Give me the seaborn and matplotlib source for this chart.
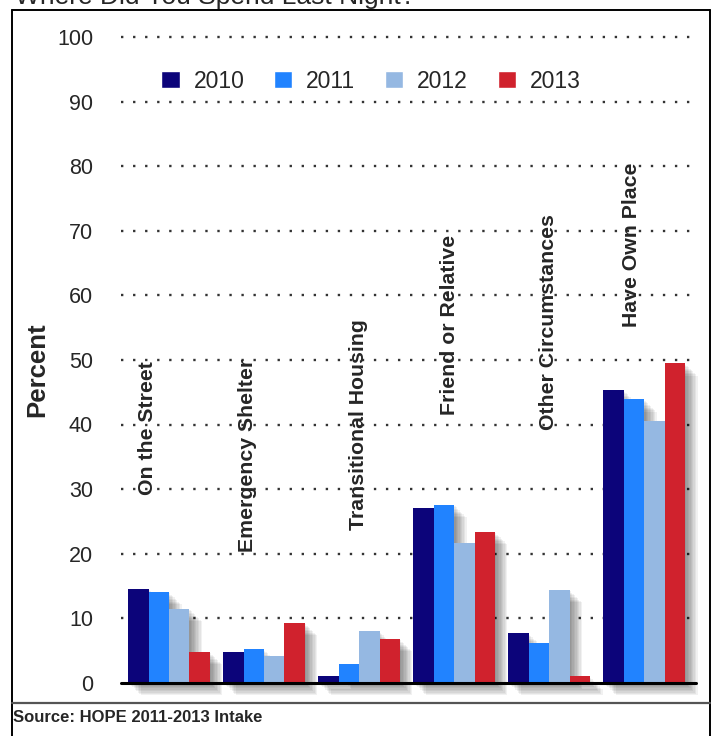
import numpy as np
import pandas as pd
import matplotlib
matplotlib.use("Agg")
import matplotlib.pyplot as plt
import matplotlib.patheffects as pe
from matplotlib.lines import Line2D
import seaborn as sns

# chart data (percent of intake respondents)
categories = ["On the Street", "Emergency Shelter", "Transitional Housing",
              "Friend or Relative", "Other Circumstances", "Have Own Place"]
years = ["2010", "2011", "2012", "2013"]
pct_2010 = [14.6, 4.8, 1.0, 27.0, 7.7, 45.3]
pct_2011 = [14.1, 5.2, 3.0, 27.6, 6.2, 43.9]
pct_2012 = [11.5, 4.1, 8.0, 21.7, 14.4, 40.6]
pct_2013 = [4.8, 9.3, 6.8, 23.4, 1.0, 49.5]
y_ticks = [0, 10, 20, 30, 40, 50, 60, 70, 80, 90, 100]

colors = ["#0c047a", "#2183ff", "#95b8e2", "#d0222d"]

df = pd.DataFrame({
    "category": categories * 4,
    "year": np.repeat(years, len(categories)),
    "pct": pct_2010 + pct_2011 + pct_2012 + pct_2013,
})

sns.set_style("white")
plt.rcParams["font.family"] = ["Liberation Sans", "DejaVu Sans"]

fig = plt.figure(figsize=(7.12, 7.36), dpi=100)
ax = fig.add_axes([121.5 / 712, 1 - 682.9 / 736, 574 / 712, 646 / 736])

sns.barplot(data=df, x="category", y="pct", hue="year", hue_order=years,
            palette=colors, width=0.86, saturation=1, ax=ax, zorder=3)

ax.set_ylim(0, 100)
ax.set_xlim(-0.5, 5.54)
ax.set_yticks(y_ticks)
ax.set_yticklabels([str(t) for t in y_ticks], fontsize=15.5)
ax.set_xticks([])
ax.set_xlabel("")
ax.set_ylabel("")
ax.tick_params(axis="y", length=0, pad=20.5)
for s in ax.spines.values():
    s.set_visible(False)

for t in y_ticks[1:]:
    ax.axhline(t, color="#333333", lw=1.7, ls=(0, (1, 4.1)),
               dash_capstyle="butt", zorder=1, clip_on=False)
ax.axhline(0, color="black", lw=2.2, zorder=6, clip_on=False)

leg = ax.legend(loc="center", bbox_to_anchor=(371 / 712, 1 - 81 / 736),
                bbox_transform=fig.transFigure, ncol=4, frameon=False,
                fontsize=16.5, handlelength=0.8, handleheight=0.8,
                handletextpad=0.6, columnspacing=1.3, borderpad=0)

# soft drop shadow on the bars (not on the legend keys)
shadow = [pe.SimplePatchShadow(offset=(d, -d), shadow_rgbFace="black", alpha=0.055)
          for d in range(1, 10)] + [pe.Normal()]
for p in ax.patches:
    p.set_linewidth(0)
    p.set_clip_on(False)
    p.set_path_effects(shadow)

# rotated category labels above the bars
label_dx = [-0.23, -0.17, -0.01, -0.05, -0.01, -0.13]
label_y = [29.1, 20.3, 23.7, 41.5, 39.2, 55.1]
for i, name in enumerate(categories):
    ax.text(i + label_dx[i], label_y[i], name, rotation=90, ha="center",
            va="bottom", fontsize=15.3, fontweight="bold", zorder=7)

fig.text(37 / 712, 1 - 370 / 736, "Percent", rotation=90, ha="center",
         va="center", fontsize=18.5, fontweight="bold")
fig.text(15 / 712, 1 - 4 / 736, "Where Did You Spend Last Night?",
         ha="left", va="baseline", fontsize=19)
fig.text(13 / 712, 1 - 718 / 736, "Source: HOPE 2011-2013 Intake",
         ha="left", va="center", fontsize=12, fontweight="bold")

# outer frame
W, H = 712, 736
def fline(x0, y0, x1, y1, c="black", lw=1.4):
    fig.add_artist(Line2D([x0 / W, x1 / W], [1 - y0 / H, 1 - y1 / H],
                          transform=fig.transFigure, color=c, lw=lw))
fline(12, 10, 710, 10)
fline(12, 10, 12, 736)
fline(710, 10, 710, 736)
fline(12, 702.7, 710, 702.7, c="#555555", lw=1.6)

fig.savefig("out.png", dpi=100)
